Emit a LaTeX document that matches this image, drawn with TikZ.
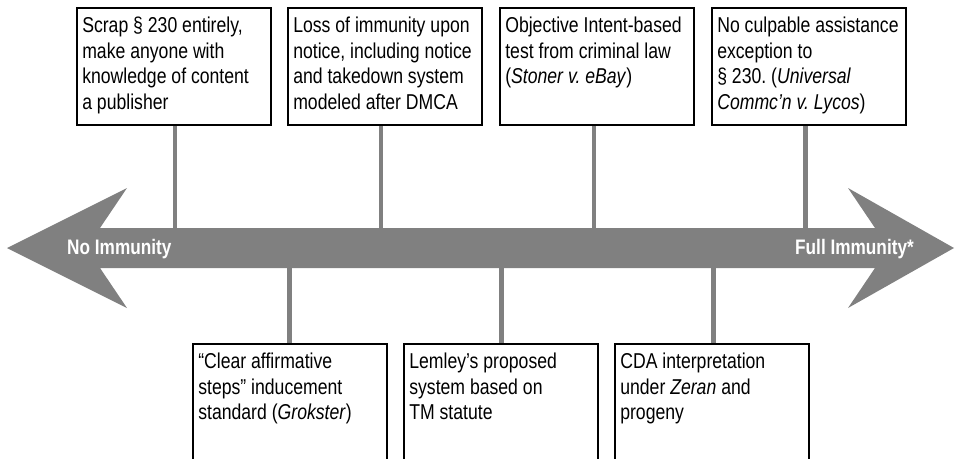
\documentclass[tikz,border=0pt]{standalone}
\usepackage{fontspec}
\setmainfont{Liberation Sans}[FakeStretch=0.82]
\definecolor{axisgray}{HTML}{808080}
\newcommand\boxtext[2]{\parbox[t][#1][t]{183pt}{\raggedright\frenchspacing\strut #2}}
\pgfdeclarelayer{bg}
\pgfsetlayers{bg,main}
\begin{document}
\begin{tikzpicture}[x=1pt,y=-1pt,
  box/.style={draw=black, line width=1.6pt, fill=white, anchor=north west,
    inner xsep=5.5pt, inner ysep=7pt, font=\fontsize{21.5}{25.5}\selectfont},
  stem/.style={draw=axisgray, line width=4.5pt},
  arrowlabel/.style={text=white, inner sep=0pt, font=\fontsize{21}{25.5}\selectfont\bfseries}]
\useasboundingbox (0,0) rectangle (955,458);
\clip (0,0) rectangle (955,458);

% boxes above
\node[box] (b1) at (76,7)  {\boxtext{103pt}{Scrap § 230 entirely,\\make anyone with\\knowledge of content\\a publisher}};
\node[box] (b2) at (287,7) {\boxtext{103pt}{Loss of immunity upon\\notice, including notice\\and takedown system\\modeled after DMCA}};
\node[box] (b3) at (499,7) {\boxtext{103pt}{Objective Intent-based\\test from criminal law\\(\textit{Stoner v. eBay})}};
\node[box] (b4) at (711,7) {\boxtext{103pt}{No culpable assistance\\exception to\\§ 230. (\textit{Universal}\\\textit{Commc’n v. Lycos})}};
% boxes below
\node[box] (b5) at (192,343) {\boxtext{150pt}{“Clear affirmative\\steps” inducement\\standard (\textit{Grokster})}};
\node[box] (b6) at (403,343) {\boxtext{150pt}{Lemley’s proposed\\system based on\\TM statute}};
\node[box] (b7) at (614,343) {\boxtext{150pt}{CDA interpretation\\under \textit{Zeran} and\\progeny}};

\coordinate (shafttop) at (0,232);
\coordinate (shaftbot) at (0,264);

\begin{pgfonlayer}{bg}
  % stems
  \draw[stem] ([xshift=1pt]b1.south) -- ([xshift=1pt]b1.south |- shafttop);
  \draw[stem] ([xshift=-4pt]b2.south) -- ([xshift=-4pt]b2.south |- shafttop);
  \draw[stem] ([xshift=-3pt]b3.south) -- ([xshift=-3pt]b3.south |- shafttop);
  \draw[stem] ([xshift=-3.5pt]b4.south) -- ([xshift=-3.5pt]b4.south |- shafttop);
  \draw[stem] ([xshift=-0.5pt]b5.north) -- ([xshift=-0.5pt]b5.north |- shaftbot);
  \draw[stem] ([xshift=0.5pt]b6.north) -- ([xshift=0.5pt]b6.north |- shaftbot);
  \draw[stem] ([xshift=1.5pt]b7.north) -- ([xshift=1.5pt]b7.north |- shaftbot);
  % double-headed axis arrow
  \fill[axisgray] (7,248) -- (127,188) -- (100,228) -- (875,228) -- (848,188)
    -- (954,248) -- (848,308) -- (875,268) -- (100,268) -- (127,308) -- cycle;
\end{pgfonlayer}

\node[arrowlabel, anchor=base west] (noimm) at (67,254) {No Immunity};
\node[arrowlabel, anchor=base east] (fullimm) at (914,254) {Full Immunity*};
\end{tikzpicture}
\end{document}
